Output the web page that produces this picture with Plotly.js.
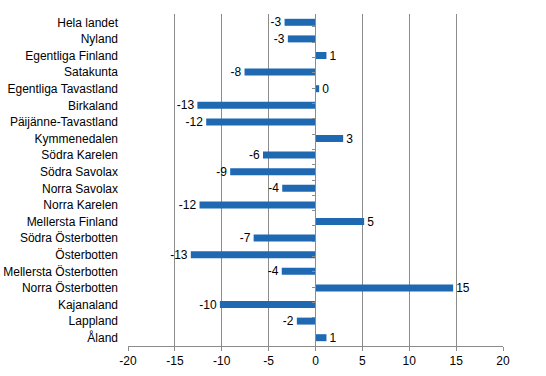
<!DOCTYPE html>
<html>
<head>
<meta charset="utf-8">
<script src="https://cdn.plot.ly/plotly-3.0.1.min.js"></script>
<style>html,body{margin:0;padding:0;background:#fff;}#chart{width:546px;height:376px;}</style>
</head>
<body>
<div id="chart"></div>
<script>
const regions = ["Hela landet","Nyland","Egentliga Finland","Satakunta","Egentliga Tavastland","Birkaland","Päijänne-Tavastland","Kymmenedalen","Södra Karelen","Södra Savolax","Norra Savolax","Norra Karelen","Mellersta Finland","Södra Österbotten","Österbotten","Mellersta Österbotten","Norra Österbotten","Kajanaland","Lappland","Åland"];
const values = [-3.3,-2.95,1.17,-7.57,0.39,-12.6,-11.66,2.95,-5.6,-9.1,-3.55,-12.37,5.19,-6.6,-13.3,-3.6,14.68,-10.2,-1.99,1.17];
const labels = ["-3","-3","1","-8","0","-13","-12","3","-6","-9","-4","-12","5","-7","-13","-4","15","-10","-2","1"];
const xTicks = [-20,-15,-10,-5,0,5,10,15,20];

const font = {family: "Liberation Sans, Arial, sans-serif", size: 12, color: "#000"};
const gray = "#8c8c8c";

const traces = [
  {
    type: "bar", orientation: "h",
    x: values, y: regions,
    text: labels, textposition: "outside", cliponaxis: false,
    constraintext: "none",
    textfont: font,
    marker: {color: "#1f69b3"},
    hoverinfo: "none"
  },
  {
    type: "scatter", mode: "markers",
    x: regions.map(() => 0), y: regions,
    yaxis: "y2", marker: {opacity: 0}, hoverinfo: "none", showlegend: false
  }
];

const layout = {
  width: 546, height: 376,
  margin: {l: 128, r: 43, t: 14, b: 30},
  paper_bgcolor: "#fff", plot_bgcolor: "#fff",
  showlegend: false,
  bargap: 0.58,
  font: font,
  xaxis: {
    range: [-20, 20], tickvals: xTicks, ticktext: xTicks.map(String),
    showgrid: true, gridcolor: gray, gridwidth: 1,
    zeroline: true, zerolinecolor: gray, zerolinewidth: 1,
    showline: true, linecolor: gray, linewidth: 1,
    ticks: "outside", ticklen: 4, tickcolor: gray,
    tickfont: font, fixedrange: true
  },
  yaxis: {
    type: "category", categoryarray: regions, autorange: "reversed",
    showgrid: false, zeroline: false, showline: false, ticks: "",
    ticklabelstandoff: 9, tickfont: font, fixedrange: true
  },
  yaxis2: {
    type: "category", categoryarray: regions, autorange: "reversed",
    overlaying: "y", anchor: "free", position: 0.5, side: "left",
    showgrid: false, zeroline: false, showline: false,
    ticks: "outside", ticklen: 4, tickcolor: gray, tickson: "boundaries",
    showticklabels: false, fixedrange: true
  },
  shapes: [{
    type: "line", xref: "x", yref: "paper", x0: 0, x1: 0, y0: 0, y1: 1,
    line: {color: gray, width: 1}, layer: "above"
  }]
};

Plotly.newPlot("chart", traces, layout, {displayModeBar: false, staticPlot: true});
</script>
</body>
</html>
